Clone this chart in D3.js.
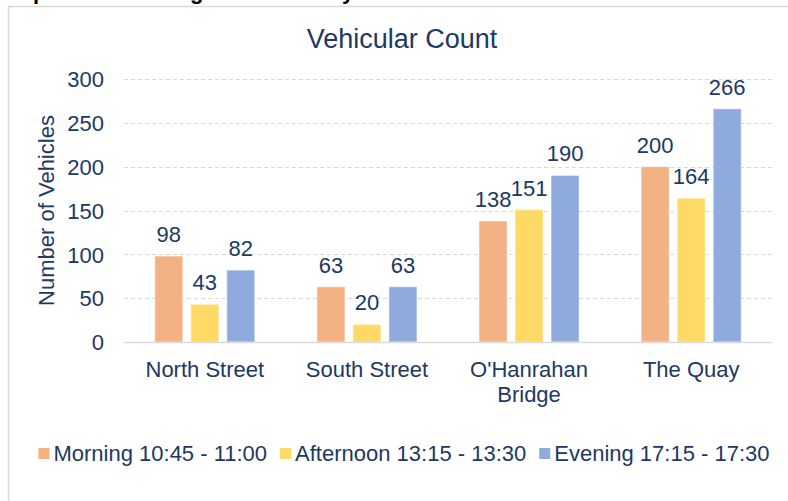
<!DOCTYPE html>
<html>
<head>
<meta charset="utf-8">
<script src="https://cdnjs.cloudflare.com/ajax/libs/d3/7.8.5/d3.min.js"></script>
<style>
  body { margin: 0; background: #fff; }
  text { font-family: "Liberation Sans", Arial, sans-serif; }
</style>
</head>
<body>
<div id="chart"></div>
<script>

// data
var locations = ['North Street', 'South Street', "O'Hanrahan Bridge", 'The Quay'];
var periods = ['Morning 10:45 - 11:00', 'Afternoon 13:15 - 13:30', 'Evening 17:15 - 17:30'];
var morning = [98, 63, 138, 200];
var afternoon = [43, 20, 151, 164];
var evening = [82, 63, 190, 266];
var yTicks = [0, 50, 100, 150, 200, 250, 300];

var colors = ['#f4b183', '#ffd966', '#8faadc'];
var ink = '#203864';
var W = 788, H = 501;
var plot = { left: 124, right: 772, top: 79, bottom: 342 };
var fs = 22;

var svg = d3.select('#chart').append('svg')
    .attr('width', W)
    .attr('height', H);

// cut-off caption from the page above the chart (only descenders show)
var caption = svg.append('g')
    .attr('font-weight', 'bold')
    .attr('font-size', 22)
    .attr('fill', '#000');
[['p', 33], ['g', 190], ['y', 342]].forEach(function(c) {
  caption.append('text').attr('x', c[1]).attr('y', -1).text(c[0]);
});

// chart frame
svg.append('path')
    .attr('d', 'M8.5,' + H + 'V6.5H' + W)
    .attr('fill', 'none')
    .attr('stroke', '#d9d9d9')
    .attr('stroke-width', 1.5);

// title
svg.append('text')
    .attr('x', 402)
    .attr('y', 48)
    .attr('text-anchor', 'middle')
    .attr('font-size', 27)
    .attr('fill', ink)
    .text('Vehicular Count');

var y = d3.scaleLinear()
    .domain([0, 300])
    .range([plot.bottom, plot.top]);

var x0 = d3.scaleBand()
    .domain(locations)
    .range([plot.left, plot.right])
    .paddingInner(0.383)
    .paddingOuter(0.19);

var x1 = d3.scaleBand()
    .domain(periods)
    .range([0, x0.bandwidth()])
    .paddingInner(0.222);

// gridlines
svg.append('g')
  .selectAll('line')
  .data(yTicks.filter(function(d) { return d > 0; }))
  .enter().append('line')
    .attr('x1', plot.left)
    .attr('x2', plot.right)
    .attr('y1', function(d) { return Math.round(y(d)) + 0.5; })
    .attr('y2', function(d) { return Math.round(y(d)) + 0.5; })
    .attr('stroke', '#d9d9d9')
    .attr('stroke-dasharray', '4,3');

// y axis (labels only)
var yAxis = svg.append('g')
    .attr('transform', 'translate(' + plot.left + ',0)')
    .call(d3.axisLeft(y).tickValues(yTicks).tickSize(0).tickPadding(20));
yAxis.select('.domain').remove();
yAxis.selectAll('text')
    .attr('font-size', fs)
    .attr('fill', ink)
    .attr('dy', '0.35em');

svg.append('text')
    .attr('transform', 'translate(54,' + ((plot.top + plot.bottom) / 2) + ') rotate(-90)')
    .attr('text-anchor', 'middle')
    .attr('font-size', fs)
    .attr('fill', ink)
    .text('Number of Vehicles');

// bars
var series = [morning, afternoon, evening];
var groups = svg.append('g')
  .selectAll('g')
  .data(locations)
  .enter().append('g')
    .attr('transform', function(d) { return 'translate(' + x0(d) + ',0)'; });

groups.selectAll('rect')
    .data(function(d, i) {
      return periods.map(function(p, j) { return { period: p, value: series[j][i], k: j }; });
    })
  .enter().append('rect')
    .attr('x', function(d) { return x1(d.period); })
    .attr('width', x1.bandwidth())
    .attr('y', function(d) { return y(d.value); })
    .attr('height', function(d) { return y(0) - y(d.value); })
    .attr('fill', function(d) { return colors[d.k]; })
    .attr('stroke', '#fff')
    .attr('stroke-opacity', 0.5);

groups.selectAll('text.value')
    .data(function(d, i) {
      return periods.map(function(p, j) { return { period: p, value: series[j][i] }; });
    })
  .enter().append('text')
    .attr('class', 'value')
    .attr('x', function(d) { return x1(d.period) + x1.bandwidth() / 2; })
    .attr('y', function(d) { return y(d.value) - 14; })
    .attr('text-anchor', 'middle')
    .attr('font-size', fs)
    .attr('fill', ink)
    .text(function(d) { return d.value; });

// x axis line
svg.append('line')
    .attr('x1', plot.left)
    .attr('x2', plot.right)
    .attr('y1', plot.bottom + 0.5)
    .attr('y2', plot.bottom + 0.5)
    .attr('stroke', '#d9d9d9')
    .attr('stroke-width', 1.5);

// category labels, wrapped like the original
var catLines = {
  "O'Hanrahan Bridge": ["O'Hanrahan", 'Bridge']
};
svg.append('g')
  .selectAll('text')
  .data(locations)
  .enter().append('text')
    .attr('x', function(d) { return x0(d) + x0.bandwidth() / 2; })
    .attr('y', 377)
    .attr('text-anchor', 'middle')
    .attr('font-size', fs)
    .attr('fill', ink)
    .each(function(d) {
      var lines = catLines[d] || [d];
      var t = d3.select(this);
      lines.forEach(function(l, i) {
        t.append('tspan')
            .attr('x', x0(d) + x0.bandwidth() / 2)
            .attr('dy', i ? 25 : 0)
            .text(l);
      });
    });

// legend
var legend = svg.append('g').attr('transform', 'translate(0,461)');
var items = legend.selectAll('g')
  .data(periods)
  .enter().append('g');
items.append('rect')
    .attr('y', -13)
    .attr('width', 11)
    .attr('height', 11)
    .attr('fill', function(d, i) { return colors[i]; });
items.append('text')
    .attr('x', 15)
    .attr('font-size', fs)
    .attr('fill', ink)
    .text(function(d) { return d; });

var gap = 13, pos = 0, offsets = [];
items.each(function() {
  offsets.push(pos);
  pos += this.getBBox().width + gap;
});
var start = 404 - (pos - gap) / 2;
items.attr('transform', function(d, i) { return 'translate(' + (start + offsets[i]) + ',0)'; });

</script>
</body>
</html>
